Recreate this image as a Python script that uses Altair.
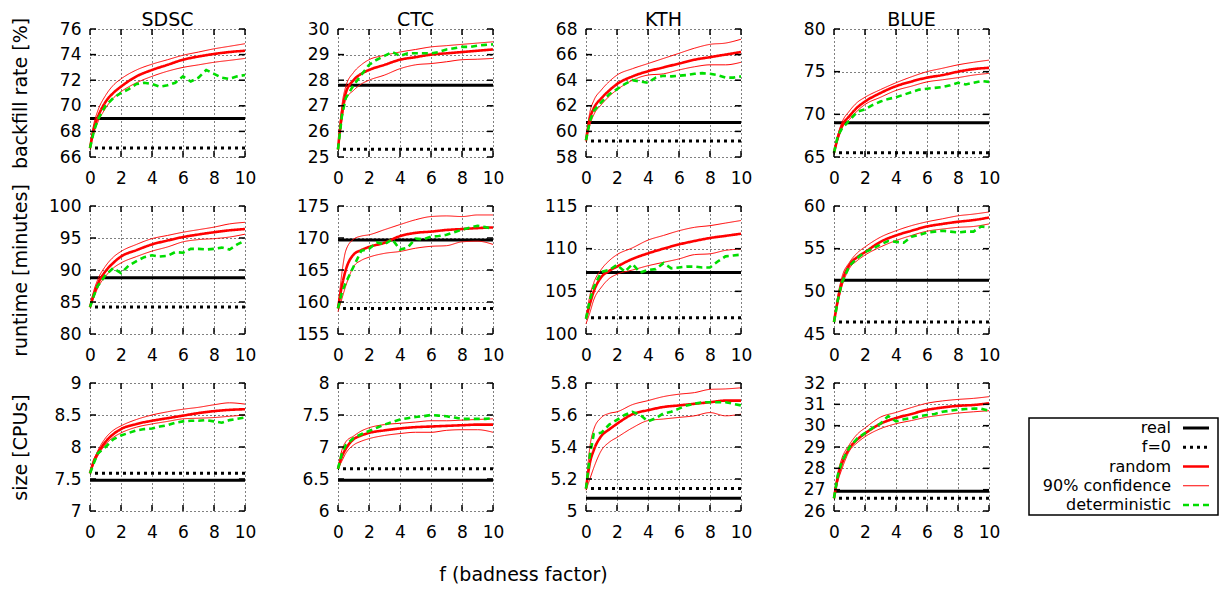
import altair as alt
import pandas as pd

# ---------------- data ----------------
SYSTEMS = ["SDSC", "CTC", "KTH", "BLUE"]
METRIC_TITLES = ["backfill rate [%]", "runtime [minutes]", "size [CPUs]"]
SERIES = ["real", "f=0", "random", "90% confidence", "deterministic"]
X_LABEL = "f (badness factor)"

X_SMOOTH = [0, 0.25, 0.5, 1, 1.5, 2, 3, 4, 5, 6, 7, 8, 9, 10]
X_DET = [0, 0.25, 0.5, 1, 1.5, 2, 2.5, 3, 3.5, 4, 4.5, 5, 5.5, 6, 6.5, 7, 7.5, 8, 8.5, 9, 9.5, 10]
X_TICKS = [0, 2, 4, 6, 8, 10]

BACKFILL_TICKS = [[66, 68, 70, 72, 74, 76], [25, 26, 27, 28, 29, 30],
                  [58, 60, 62, 64, 66, 68], [65, 70, 75, 80]]
RUNTIME_TICKS = [[80, 85, 90, 95, 100], [155, 160, 165, 170, 175],
                 [100, 105, 110, 115], [45, 50, 55, 60]]
SIZE_TICKS = [[7, 7.5, 8, 8.5, 9], [6, 6.5, 7, 7.5, 8],
              [5, 5.2, 5.4, 5.6, 5.8], [26, 27, 28, 29, 30, 31, 32]]

REAL_BACKFILL = [69.0, 27.8, 60.7, 69.0]
F0_BACKFILL = [66.7, 25.3, 59.25, 65.5]
REAL_RUNTIME = [88.8, 169.7, 107.2, 51.3]
F0_RUNTIME = [84.2, 159.0, 101.9, 46.4]
REAL_SIZE = [7.48, 6.48, 5.08, 26.92]
F0_SIZE = [7.59, 6.66, 5.14, 26.6]

# backfill rate
SDSC_BACKFILL_RANDOM = [66.7, 68.2, 69.1, 70.3, 71.0, 71.5, 72.3, 72.8, 73.2, 73.6, 73.85, 74.05, 74.2, 74.3]
SDSC_BACKFILL_UPPER = [66.8, 68.6, 69.6, 70.8, 71.6, 72.1, 72.8, 73.25, 73.6, 73.95, 74.2, 74.45, 74.65, 74.85]
SDSC_BACKFILL_LOWER = [66.6, 67.9, 68.7, 69.8, 70.6, 71.1, 71.8, 72.3, 72.7, 73.0, 73.2, 73.4, 73.55, 73.7]
SDSC_BACKFILL_DET = [66.7, 68.0, 68.9, 70.0, 70.6, 71.0, 71.3, 71.7, 71.8, 71.7, 71.5, 71.6, 71.8, 72.3, 71.9, 72.2, 72.8, 72.5, 72.2, 72.1, 72.3, 72.4]

CTC_BACKFILL_RANDOM = [25.3, 26.7, 27.5, 28.0, 28.25, 28.4, 28.6, 28.8, 28.9, 29.0, 29.05, 29.1, 29.15, 29.2]
CTC_BACKFILL_UPPER = [25.3, 27.0, 27.75, 28.3, 28.6, 28.8, 28.97, 29.1, 29.2, 29.3, 29.35, 29.4, 29.45, 29.5]
CTC_BACKFILL_LOWER = [25.3, 26.4, 27.25, 27.6, 27.85, 28.0, 28.2, 28.45, 28.6, 28.65, 28.72, 28.8, 28.82, 28.85]
CTC_BACKFILL_DET = [25.3, 26.6, 27.3, 27.8, 28.2, 28.6, 28.8, 28.95, 29.1, 28.95, 29.05, 29.05, 29.05, 29.05, 29.1, 29.2, 29.25, 29.3, 29.3, 29.35, 29.38, 29.4]

KTH_BACKFILL_RANDOM = [59.3, 61.0, 61.8, 62.6, 63.2, 63.7, 64.3, 64.7, 65.0, 65.3, 65.6, 65.8, 66.0, 66.2]
KTH_BACKFILL_UPPER = [59.3, 61.5, 62.4, 63.25, 63.9, 64.4, 64.9, 65.3, 65.7, 66.1, 66.5, 66.8, 66.9, 67.2]
KTH_BACKFILL_LOWER = [59.2, 60.5, 61.3, 62.1, 62.75, 63.25, 64.0, 64.4, 64.5, 64.8, 65.05, 65.2, 65.2, 65.4]
KTH_BACKFILL_DET = [59.3, 60.8, 61.6, 62.3, 62.9, 63.3, 63.7, 64.0, 63.9, 63.8, 64.2, 64.35, 64.3, 64.35, 64.4, 64.5, 64.55, 64.5, 64.4, 64.2, 64.2, 64.3]

BLUE_BACKFILL_RANDOM = [65.5, 67.3, 68.6, 69.8, 70.8, 71.5, 72.5, 73.3, 73.85, 74.3, 74.6, 75.0, 75.3, 75.45]
BLUE_BACKFILL_UPPER = [65.5, 67.6, 69.0, 70.4, 71.4, 72.0, 72.9, 73.7, 74.4, 75.0, 75.4, 75.8, 76.1, 76.35]
BLUE_BACKFILL_LOWER = [65.4, 67.0, 68.3, 69.4, 70.4, 71.15, 72.0, 72.8, 73.3, 73.8, 74.05, 74.3, 74.6, 74.8]
BLUE_BACKFILL_DET = [65.5, 67.5, 68.3, 69.3, 70.3, 70.6, 71.1, 71.5, 71.8, 72.0, 72.3, 72.6, 72.9, 73.0, 73.1, 73.2, 73.4, 73.7, 73.5, 73.7, 73.9, 73.8]

# runtime
SDSC_RUNTIME_RANDOM = [84.2, 86.2, 87.8, 89.8, 91.1, 92.1, 93.1, 94.0, 94.6, 95.15, 95.55, 95.9, 96.2, 96.4]
SDSC_RUNTIME_UPPER = [84.3, 86.8, 88.5, 90.6, 92.0, 92.9, 94.0, 94.9, 95.4, 95.9, 96.3, 96.7, 97.2, 97.45]
SDSC_RUNTIME_LOWER = [84.1, 85.7, 87.2, 89.0, 90.3, 91.1, 92.1, 92.95, 93.6, 94.4, 94.75, 94.9, 95.15, 95.6]
SDSC_RUNTIME_DET = [84.2, 86.0, 87.5, 89.2, 90.3, 89.5, 90.7, 91.4, 92.0, 92.3, 92.1, 92.2, 92.8, 92.7, 93.3, 93.3, 93.2, 93.3, 93.5, 93.2, 94.0, 94.6]

CTC_RUNTIME_RANDOM = [159.0, 162.5, 165.0, 167.4, 168.1, 168.6, 169.25, 170.3, 170.8, 171.0, 171.25, 171.4, 171.55, 171.65]
CTC_RUNTIME_UPPER = [159.0, 164.5, 168.0, 169.8, 170.3, 170.5, 171.3, 172.1, 172.85, 173.35, 173.45, 173.35, 173.6, 173.6]
CTC_RUNTIME_LOWER = [158.5, 160.5, 162.5, 165.5, 166.5, 167.0, 167.6, 167.9, 168.4, 168.7, 168.8, 169.4, 169.5, 169.0]
CTC_RUNTIME_DET = [159.0, 161.5, 163.0, 165.5, 168.0, 168.3, 169.3, 169.0, 169.8, 168.2, 168.5, 169.9, 169.8, 170.2, 170.3, 170.5, 170.9, 171.3, 171.6, 171.9, 171.7, 171.4]

KTH_RUNTIME_RANDOM = [101.8, 103.5, 105.0, 106.7, 107.4, 107.9, 108.8, 109.45, 110.0, 110.5, 110.9, 111.25, 111.5, 111.75]
KTH_RUNTIME_UPPER = [101.8, 104.5, 106.0, 107.6, 108.6, 109.3, 110.1, 111.0, 111.55, 112.1, 112.5, 112.7, 113.0, 113.3]
KTH_RUNTIME_LOWER = [101.2, 102.5, 104.0, 105.5, 106.5, 107.0, 107.5, 108.0, 108.4, 108.8, 109.3, 109.4, 109.8, 109.95]
KTH_RUNTIME_DET = [101.8, 104.0, 105.5, 107.3, 107.5, 108.1, 107.3, 108.2, 107.2, 107.5, 107.6, 108.3, 107.7, 107.8, 107.9, 107.9, 107.8, 107.8, 108.5, 109.1, 109.2, 109.3]

BLUE_RUNTIME_RANDOM = [46.4, 49.0, 51.0, 53.1, 54.0, 54.6, 55.8, 56.55, 57.1, 57.6, 57.9, 58.15, 58.35, 58.65]
BLUE_RUNTIME_UPPER = [46.4, 49.5, 51.6, 53.4, 54.5, 55.2, 56.35, 57.1, 57.7, 58.15, 58.5, 58.85, 59.05, 59.3]
BLUE_RUNTIME_LOWER = [46.4, 48.6, 50.5, 52.7, 53.6, 54.25, 55.2, 55.95, 56.55, 57.05, 57.3, 57.5, 57.6, 57.9]
BLUE_RUNTIME_DET = [46.4, 49.0, 51.0, 53.0, 53.9, 54.6, 55.0, 55.5, 55.9, 55.8, 55.7, 56.4, 56.6, 56.9, 57.0, 57.1, 57.0, 56.9, 57.0, 57.0, 57.6, 57.5]

# size
SDSC_SIZE_RANDOM = [7.59, 7.78, 7.9, 8.08, 8.2, 8.28, 8.36, 8.41, 8.45, 8.49, 8.53, 8.56, 8.58, 8.59]
SDSC_SIZE_UPPER = [7.6, 7.8, 7.94, 8.14, 8.26, 8.33, 8.43, 8.5, 8.55, 8.59, 8.62, 8.66, 8.69, 8.67]
SDSC_SIZE_LOWER = [7.58, 7.74, 7.86, 8.04, 8.15, 8.22, 8.31, 8.36, 8.4, 8.44, 8.45, 8.46, 8.48, 8.5]
SDSC_SIZE_DET = [7.59, 7.75, 7.9, 8.0, 8.12, 8.18, 8.22, 8.26, 8.28, 8.29, 8.32, 8.34, 8.38, 8.4, 8.41, 8.41, 8.42, 8.4, 8.38, 8.42, 8.44, 8.46]

CTC_SIZE_RANDOM = [6.66, 6.85, 6.97, 7.12, 7.18, 7.22, 7.26, 7.29, 7.31, 7.32, 7.33, 7.34, 7.35, 7.35]
CTC_SIZE_UPPER = [6.66, 6.95, 7.08, 7.17, 7.25, 7.3, 7.35, 7.37, 7.39, 7.41, 7.41, 7.42, 7.43, 7.44]
CTC_SIZE_LOWER = [6.66, 6.78, 6.9, 7.03, 7.09, 7.13, 7.18, 7.21, 7.23, 7.23, 7.26, 7.27, 7.27, 7.23]
CTC_SIZE_DET = [6.66, 6.9, 7.03, 7.14, 7.2, 7.25, 7.3, 7.35, 7.39, 7.43, 7.45, 7.47, 7.48, 7.5, 7.49, 7.48, 7.46, 7.44, 7.44, 7.44, 7.44, 7.45]

KTH_SIZE_RANDOM = [5.14, 5.3, 5.38, 5.47, 5.51, 5.545, 5.605, 5.63, 5.65, 5.66, 5.67, 5.68, 5.69, 5.69]
KTH_SIZE_UPPER = [5.14, 5.4, 5.51, 5.585, 5.61, 5.62, 5.665, 5.69, 5.715, 5.73, 5.74, 5.76, 5.763, 5.77]
KTH_SIZE_LOWER = [5.13, 5.2, 5.27, 5.38, 5.43, 5.46, 5.52, 5.565, 5.575, 5.585, 5.595, 5.615, 5.595, 5.605]
KTH_SIZE_DET = [5.14, 5.35, 5.48, 5.49, 5.54, 5.57, 5.6, 5.62, 5.6, 5.56, 5.58, 5.61, 5.62, 5.64, 5.66, 5.67, 5.68, 5.68, 5.68, 5.68, 5.67, 5.66]

BLUE_SIZE_RANDOM = [26.6, 27.6, 28.2, 28.94, 29.35, 29.63, 30.09, 30.36, 30.55, 30.74, 30.85, 30.93, 30.97, 31.05]
BLUE_SIZE_UPPER = [26.6, 27.8, 28.45, 29.12, 29.6, 29.89, 30.4, 30.62, 30.85, 31.05, 31.16, 31.23, 31.28, 31.36]
BLUE_SIZE_LOWER = [26.6, 27.4, 27.95, 28.82, 29.2, 29.48, 29.86, 30.09, 30.24, 30.4, 30.5, 30.59, 30.65, 30.7]
BLUE_SIZE_DET = [26.6, 27.7, 28.3, 29.0, 29.4, 29.65, 29.9, 30.1, 30.45, 30.2, 30.3, 30.35, 30.45, 30.5, 30.55, 30.65, 30.7, 30.75, 30.78, 30.8, 30.8, 30.7]

# ---------------- tables built from the arrays ----------------
Y_TICKS = [BACKFILL_TICKS, RUNTIME_TICKS, SIZE_TICKS]
REALS = [REAL_BACKFILL, REAL_RUNTIME, REAL_SIZE]
F0S = [F0_BACKFILL, F0_RUNTIME, F0_SIZE]
CURVES = [
    [(SDSC_BACKFILL_RANDOM, SDSC_BACKFILL_UPPER, SDSC_BACKFILL_LOWER, SDSC_BACKFILL_DET),
     (CTC_BACKFILL_RANDOM, CTC_BACKFILL_UPPER, CTC_BACKFILL_LOWER, CTC_BACKFILL_DET),
     (KTH_BACKFILL_RANDOM, KTH_BACKFILL_UPPER, KTH_BACKFILL_LOWER, KTH_BACKFILL_DET),
     (BLUE_BACKFILL_RANDOM, BLUE_BACKFILL_UPPER, BLUE_BACKFILL_LOWER, BLUE_BACKFILL_DET)],
    [(SDSC_RUNTIME_RANDOM, SDSC_RUNTIME_UPPER, SDSC_RUNTIME_LOWER, SDSC_RUNTIME_DET),
     (CTC_RUNTIME_RANDOM, CTC_RUNTIME_UPPER, CTC_RUNTIME_LOWER, CTC_RUNTIME_DET),
     (KTH_RUNTIME_RANDOM, KTH_RUNTIME_UPPER, KTH_RUNTIME_LOWER, KTH_RUNTIME_DET),
     (BLUE_RUNTIME_RANDOM, BLUE_RUNTIME_UPPER, BLUE_RUNTIME_LOWER, BLUE_RUNTIME_DET)],
    [(SDSC_SIZE_RANDOM, SDSC_SIZE_UPPER, SDSC_SIZE_LOWER, SDSC_SIZE_DET),
     (CTC_SIZE_RANDOM, CTC_SIZE_UPPER, CTC_SIZE_LOWER, CTC_SIZE_DET),
     (KTH_SIZE_RANDOM, KTH_SIZE_UPPER, KTH_SIZE_LOWER, KTH_SIZE_DET),
     (BLUE_SIZE_RANDOM, BLUE_SIZE_UPPER, BLUE_SIZE_LOWER, BLUE_SIZE_DET)],
]

# ---------------- style ----------------
FONT = "DejaVu Sans"
W, H = 155, 128
TICK = 6
LEG_W = 136
SERIES_COLORS = ["#000000", "#000000", "#ff0000", "#ff0000", "#00dd00"]
SERIES_DASHES = [[1, 0], [3, 4], [1, 0], [1, 0], [6, 4]]
SERIES_WIDTHS = [3, 3, 2.6, 1, 2.6]

color_scale = alt.Scale(domain=SERIES, range=SERIES_COLORS)
dash_scale = alt.Scale(domain=SERIES, range=SERIES_DASHES)
width_scale = alt.Scale(type="ordinal", domain=SERIES, range=SERIES_WIDTHS)


def style():
    return dict(
        color=alt.Color("series:N", scale=color_scale, legend=None),
        strokeDash=alt.StrokeDash("series:N", scale=dash_scale, legend=None),
        strokeWidth=alt.StrokeWidth("series:O", scale=width_scale, legend=None),
    )


def panel(m, s):
    rnd, up, lo, det = CURVES[m][s]
    n = len(X_SMOOTH)
    smooth = pd.DataFrame({
        "x": X_SMOOTH * 3,
        "y": list(rnd) + list(up) + list(lo),
        "series": ["random"] * n + ["90% confidence"] * (2 * n),
        "curve": ["random"] * n + ["upper"] * n + ["lower"] * n,
    })
    det_df = pd.DataFrame({"x": X_DET, "y": det, "series": ["deterministic"] * len(X_DET)})
    flat_df = pd.DataFrame({"y": [REALS[m][s], F0S[m][s]], "series": ["real", "f=0"]})
    yt = Y_TICKS[m][s]

    common = dict(grid=True, ticks=False, domain=False, labelFontSize=17, labelFont=FONT,
                  labelColor="black", gridColor="black", gridDash=[1, 3], gridWidth=1,
                  labelFlush=False, labelOverlap=False)
    if m == 2 and s == 1:
        xaxis = alt.Axis(values=X_TICKS, labelPadding=13, title=X_LABEL, titleX=185, titleY=69,
                         titleBaseline="alphabetic", titleAlign="center", titleFontSize=19,
                         titleFontWeight="normal", titleFont=FONT, titleColor="black", **common)
    else:
        xaxis = alt.Axis(values=X_TICKS, labelPadding=13, title=None, **common)
    if s == 0:
        yaxis = alt.Axis(values=yt, format="~r", labelPadding=9, title=METRIC_TITLES[m],
                         titleX=-70, titleY=H / 2, titleAngle=270, titleAlign="center",
                         titleBaseline="middle", titleFontSize=19, titleFontWeight="normal",
                         titleFont=FONT, titleColor="black", **common)
    else:
        yaxis = alt.Axis(values=yt, format="~r", labelPadding=9, title=None, **common)

    X = alt.X("x:Q", scale=alt.Scale(domain=[0, 10], nice=False, zero=False), axis=xaxis)
    Y = alt.Y("y:Q", scale=alt.Scale(domain=[yt[0], yt[-1]], nice=False, zero=False), axis=yaxis)

    flat = alt.Chart(flat_df).mark_rule().encode(y=Y, **style())
    red = alt.Chart(smooth).mark_line(interpolate="monotone").encode(
        x=X, y=Y, detail="curve:N", **style())
    green = alt.Chart(det_df).mark_line().encode(x=X, y=Y, **style())

    xt = pd.DataFrame({"x": X_TICKS})
    ytd = pd.DataFrame({"y": yt})
    tk = dict(color="black", strokeWidth=1.5)
    tb = alt.Chart(xt).mark_rule(**tk).encode(x=X, y=alt.value(H), y2=alt.value(H - TICK))
    tt = alt.Chart(xt).mark_rule(**tk).encode(x=X, y=alt.value(0), y2=alt.value(TICK))
    tl = alt.Chart(ytd).mark_rule(**tk).encode(y=Y, x=alt.value(0), x2=alt.value(TICK))
    tr = alt.Chart(ytd).mark_rule(**tk).encode(y=Y, x=alt.value(W - TICK), x2=alt.value(W))

    layers = [flat, red, green, tb, tt, tl, tr]
    if m == 0:
        ttl = alt.Chart(pd.DataFrame({"t": [SYSTEMS[s]]})).mark_text(
            font=FONT, fontSize=19, align="center", baseline="alphabetic", color="black").encode(
            x=alt.value(W / 2), y=alt.value(-3), text="t:N")
        layers.append(ttl)
    return alt.layer(*layers).properties(width=W, height=H)


def legend_chart():
    leg_df = pd.DataFrame({"series": SERIES, "rank": list(range(len(SERIES)))})
    ly = alt.Y("rank:Q", scale=alt.Scale(domain=[0, len(SERIES) - 1], range=[45, 122]),
               axis=None)
    box = alt.Chart(pd.DataFrame({"k": [0]})).mark_rect(
        fill="white", stroke="black", strokeWidth=1.5).encode(
        x=alt.value(-53), x2=alt.value(LEG_W), y=alt.value(35), y2=alt.value(132))
    labels = alt.Chart(leg_df).mark_text(
        align="right", baseline="middle", font=FONT, fontSize=16, color="black").encode(
        y=ly, x=alt.value(89), text="series:N")
    samples = alt.Chart(leg_df).mark_rule().encode(
        y=ly, x=alt.value(101), x2=alt.value(127), **style())
    return alt.layer(box, labels, samples).properties(width=LEG_W, height=H)


def blank():
    return alt.Chart(pd.DataFrame({"k": [0]})).mark_point(opacity=0).encode(
        x=alt.value(0), y=alt.value(0)).properties(width=LEG_W, height=H)


items = []
for m in range(3):
    for s in range(4):
        items.append(panel(m, s))
    items.append(legend_chart() if m == 2 else blank())

chart = alt.concat(
    *items, columns=5, spacing={"row": 49, "column": 93}, bounds="flush"
).properties(
    padding={"left": 3, "top": 3, "right": 0, "bottom": 0}
).configure(font=FONT).configure_view(stroke="transparent", strokeWidth=0)

chart.save("out.html", embed_options={"renderer": "svg", "actions": False})
